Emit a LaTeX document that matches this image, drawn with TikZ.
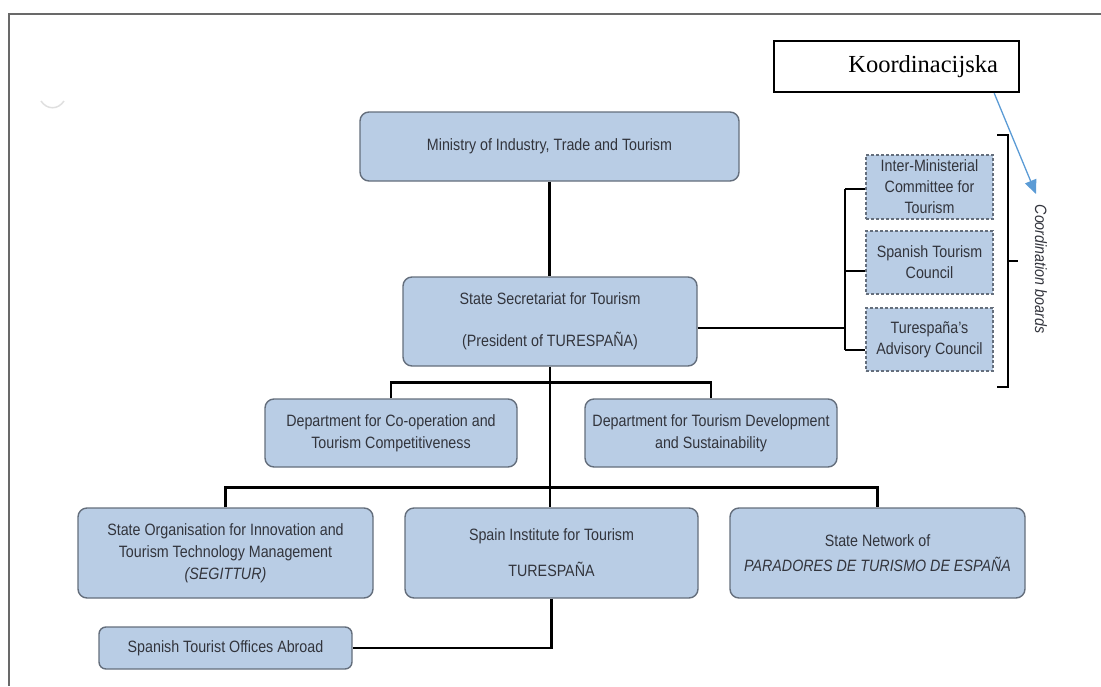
\documentclass[tikz,border=0pt]{standalone}
\usepackage{fontspec}
\setmainfont{Liberation Sans}[FakeStretch=0.87]
\newfontfamily\kfont{Liberation Serif}
\usetikzlibrary{arrows.meta,calc}
\definecolor{boxfill}{RGB}{185,205,229}
\definecolor{boxborder}{RGB}{100,110,124}
\definecolor{textcol}{RGB}{50,52,60}
\definecolor{arrowblue}{RGB}{91,155,213}
\definecolor{framecol}{RGB}{105,105,105}
\tikzset{
  orgbox/.style={draw=boxborder, fill=boxfill, rounded corners=9pt, line width=1.4pt,
    text=textcol, align=center, inner sep=0pt, font=\fontsize{16.4}{22}\selectfont},
  dbox/.style={draw=boxborder, fill=boxfill, dash pattern=on 3pt off 2pt, line width=1.4pt,
    text=textcol, align=center, inner sep=0pt, font=\fontsize{16.4}{21}\selectfont,
    minimum width=127pt},
  conn/.style={line width=2.8pt, black},
  kbox/.style={draw=black, line width=2.4pt, fill=white, text width=203pt, inner xsep=21pt,
    inner ysep=0pt, align=right, minimum height=51pt, font=\kfont\fontsize{24.5}{27}\selectfont},
}
\begin{document}
\begin{tikzpicture}[x=1pt, y=-1pt]
\useasboundingbox (0,0) rectangle (1101,686);
% frame
\draw[framecol, line width=2pt] (1101,14) -- (9,14) -- (9,686);
\draw[gray!25, line width=1.5pt] (41,101) .. controls (47,110) and (58,110) .. (64,101);

% main boxes
\node[orgbox, minimum width=379pt, minimum height=69pt] (min) at (549.5,146.5) {Ministry of Industry, Trade and Tourism};
\node[orgbox, minimum width=294pt, minimum height=89pt] (sec) at (550,321.5) {State Secretariat for Tourism\\[20pt](President of TURESPAÑA)};
\node[orgbox, minimum width=252pt, minimum height=68pt] (dco) at (391,433) {Department for Co-operation and\\Tourism Competitiveness};
\node[orgbox, minimum width=252pt, minimum height=68pt] (ddev) at (711,433) {Department for Tourism Development\\and Sustainability};
\node[orgbox, minimum width=295pt, minimum height=90pt] (seg) at (225.5,553) {State Organisation for Innovation and\\Tourism Technology Management\\\textit{(SEGITTUR)}};
\node[orgbox, minimum width=293pt, minimum height=90pt] (spi) at (551.5,553) {Spain Institute for Tourism\\[14pt]TURESPAÑA};
\node[orgbox, minimum width=295pt, minimum height=90pt] (par) at (877.5,553) {State Network of\\[3pt]\textit{PARADORES DE TURISMO DE ESPAÑA}};
\node[orgbox, minimum width=253pt, minimum height=42pt, rounded corners=7pt] (off) at (225.5,648) {Spanish Tourist Offices Abroad};

% coordination boards
\node[dbox, minimum height=64pt] (imc) at (929.5,187) {Inter-Ministerial\\Committee for\\Tourism};
\node[dbox, minimum height=63pt] (stc) at (929.5,262.5) {Spanish Tourism\\Council};
\node[dbox, minimum height=63pt] (adv) at (929.5,339.5) {Turespaña's\\Advisory Council};

% Koordinacijska
\node[kbox] (koord) at (896.5,66.5) {Koordinacijska};
\coordinate (arrowend) at (1036,194);
\draw[arrowblue, line width=1.3pt, -{Triangle[length=14pt, width=12pt]}] ($(koord.south east)+(-26,0)$) -- (arrowend);

% bracket
\coordinate (bt) at (997,135);
\coordinate (bb) at (997,387);
\coordinate (bm) at (1008,261);
\draw[conn, line width=2.6pt] (bt) -| (1008,387) -- (bb);
\draw[conn, line width=2.6pt] (bm) -- ++(10,0);
\node[rotate=-90, text=textcol, font=\itshape\fontsize{16.4}{18}\selectfont] (cb) at (1041,269) {Coordination boards};

% connectors
\draw[conn] (min.south) -- (min.south |- sec.north);
\draw[conn] (sec.south) -- (sec.south |- spi.north);
\draw[conn] (dco.north) -- ++(0,-16) -| (ddev.north);
\draw[conn] (seg.north) -- ++(0,-20) -| (par.north);
\draw[conn] (spi.south) |- (off.east);

\coordinate (sj) at (845,328);
\coordinate (vt) at (845,189);
\coordinate (vm) at (845,271);
\coordinate (vb) at (845,350);
\draw[conn] (sec.east |- sj) -- (sj);
\draw[conn] (vt) -- (vb);
\draw[conn] (vt) -- (vt -| imc.west);
\draw[conn] (vm) -- (vm -| stc.west);
\draw[conn] (vb) -- (vb -| adv.west);
\end{tikzpicture}
\end{document}
